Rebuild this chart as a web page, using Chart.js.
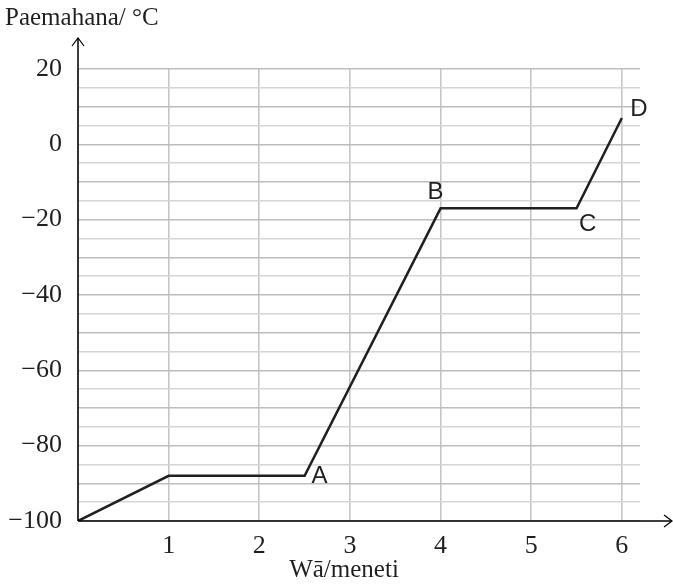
<!DOCTYPE html>
<html>
<head>
<meta charset="utf-8">
<script src="https://cdn.jsdelivr.net/npm/chart.js@4/dist/chart.umd.min.js"></script>
<style>
html,body{margin:0;padding:0;background:#fff;}
canvas{display:block;}
</style>
</head>
<body>
<canvas id="c" width="673" height="585"></canvas>
<script>
const xValues = [0, 1, 2.5, 4, 5.5, 6];
const yValues = [-100, -88, -88, -17, -17, 7];
const pointNames = ['', '', 'A', 'B', 'C', 'D'];
const xTicks = [0, 1, 2, 3, 4, 5, 6];
const yGridValues = [20, 15, 10, 5, 0, -5, -10, -15, -20, -25, -30, -35, -40, -45, -50, -55, -60, -65, -70, -75, -80, -85, -90, -95, -100];
const yTickLabels = [20, 0, -20, -40, -60, -80, -100];
const xTitle = 'Wā/meneti';
const yTitle = 'Paemahana/ °C';

const serif = '"Liberation Serif", "Times New Roman", serif';
const sans = '"Liberation Sans", Arial, sans-serif';
const labelOffsets = {A: [15, 1], B: [-5, -16], C: [11, 16], D: [17, -9]};

const overlay = {
  id: 'overlay',
  afterDraw(chart) {
    const ctx = chart.ctx;
    const xs = chart.scales.x, ys = chart.scales.y;
    const x0 = xs.getPixelForValue(0), y0 = ys.getPixelForValue(-100);
    ctx.save();
    ctx.strokeStyle = '#000';
    ctx.lineWidth = 1.5;
    ctx.beginPath();
    ctx.moveTo(x0, y0); ctx.lineTo(671, y0);
    ctx.moveTo(x0, y0); ctx.lineTo(x0, 38);
    ctx.stroke();
    ctx.lineWidth = 1.2;
    ctx.beginPath();
    ctx.moveTo(664, y0 - 6); ctx.lineTo(672, y0); ctx.lineTo(664, y0 + 6);
    ctx.moveTo(x0 - 6, 46); ctx.lineTo(x0, 38); ctx.lineTo(x0 + 6, 46);
    ctx.stroke();
    ctx.fillStyle = '#231f20';
    ctx.font = '25px ' + serif;
    ctx.textBaseline = 'middle';
    ctx.textAlign = 'left';
    ctx.fillText(yTitle, 5, 18);
    ctx.textAlign = 'center';
    ctx.fillText(xTitle, 344, 570);
    ctx.font = '24px ' + sans;
    pointNames.forEach((n, i) => {
      if (!n) return;
      const px = xs.getPixelForValue(xValues[i]);
      const py = ys.getPixelForValue(yValues[i]);
      const o = labelOffsets[n];
      ctx.fillText(n, px + o[0], py + o[1]);
    });
    ctx.restore();
  }
};

new Chart(document.getElementById('c'), {
  type: 'line',
  data: {
    datasets: [{
      data: xValues.map((x, i) => ({x: x, y: yValues[i]})),
      borderColor: '#231f20',
      borderWidth: 2.5,
      pointRadius: 0,
      tension: 0,
      fill: false
    }]
  },
  options: {
    responsive: false,
    animation: false,
    layout: {padding: {top: 69, right: 33, left: 0, bottom: 0}},
    plugins: {legend: {display: false}, tooltip: {enabled: false}},
    scales: {
      x: {
        type: 'linear',
        min: 0, max: 6.2,
        afterBuildTicks: s => { s.ticks = xTicks.map(v => ({value: v})); },
        afterFit: s => { s.height = 64; },
        border: {display: false},
        grid: {color: '#c6c6c8', lineWidth: 1.6, drawTicks: false},
        ticks: {
          padding: 10,
          color: '#231f20',
          font: {family: serif, size: 26},
          maxRotation: 0,
          autoSkip: false,
          callback: v => v === 0 ? '' : String(v)
        }
      },
      y: {
        min: -100, max: 20,
        afterBuildTicks: s => { s.ticks = yGridValues.map(v => ({value: v})); },
        afterFit: s => { s.width = 78; },
        border: {display: false},
        grid: {
          drawTicks: false,
          lineWidth: 1.6,
          color: c => (c.tick.value % 10 === 0 ? '#bdbdbf' : '#d6d6d8')
        },
        ticks: {
          padding: 16,
          autoSkip: false,
          color: '#231f20',
          font: {family: serif, size: 26},
          callback: v => yTickLabels.includes(v) ? String(v).replace('-', '\u2212') : ''
        }
      }
    }
  },
  plugins: [overlay]
});
</script>
</body>
</html>
